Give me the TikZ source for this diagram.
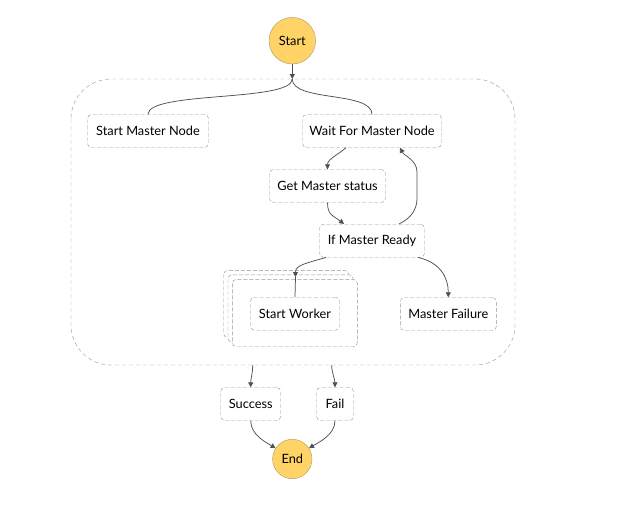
\documentclass[tikz,border=0pt]{standalone}
\usepackage{fontspec}
\setmainfont{Lato}
\usetikzlibrary{arrows.meta}

\definecolor{termfill}{RGB}{255,211,102}
\definecolor{termedge}{RGB}{170,150,110}
\definecolor{boxedge}{RGB}{150,150,150}
\definecolor{flowcol}{RGB}{80,80,80}

\tikzset{
	state/.style={draw=boxedge, dash pattern=on 4pt off 2pt, rounded corners=4pt, fill=white,
		minimum height=33pt, inner sep=0pt, font=\fontsize{12.8}{15}\selectfont},
	terminal/.style={circle, draw=termedge, fill=termfill, inner sep=0pt, font=\fontsize{12.8}{15}\selectfont},
	mapframe/.style={draw=boxedge, dash pattern=on 4pt off 2pt, rounded corners=4pt, fill=white},
	link/.style={draw=flowcol, line width=0.75pt},
	flow/.style={link, -{Triangle[length=5pt,width=5pt]}},
}

\begin{document}
\begin{tikzpicture}[x=1pt,y=-1pt]

	\useasboundingbox (0,0) rectangle (631,511);

	% parallel block
	\draw[boxedge, dash pattern=on 4pt off 3pt, rounded corners=40pt] (71,79) rectangle (515,365);

	% map frames
	\foreach \k in {2,1,0}
		\draw[mapframe] ({232.3-4.3*\k},{279.3-4.5*\k}) rectangle +(125,67.4);

	\node[terminal, minimum size=46.6pt] (start) at (292.3,40.7) {Start};
	\node[state, minimum width=121pt] (startmaster) at (148,131) {Start Master Node};
	\node[state, minimum width=139pt] (waitmaster) at (372,131) {Wait For Master Node};
	\node[state, minimum width=116pt] (getstatus) at (327.5,186) {Get Master status};
	\node[state, minimum width=105pt] (ifready) at (372,240.7) {If Master Ready};
	\node[state, minimum width=89pt] (startworker) at (295,313.7) {Start Worker};
	\node[state, minimum width=96pt] (failure) at (448.3,314) {Master Failure};
	\node[state, minimum width=60pt] (success) at (250.7,404) {Success};
	\node[state, minimum width=37pt] (fail) at (335,404) {Fail};
	\node[terminal, minimum size=39.4pt] (end) at (292.3,459) {End};

	\coordinate (fork) at (292.3,79);
	\coordinate (mapin) at (295.5,277);
	\coordinate (joinl) at (252.7,365);
	\coordinate (joinr) at (331.7,365);

	\draw[flow] (start) -- (fork);
	\draw[link] (fork) .. controls (292.3,102) and (148,91) .. (startmaster.north);
	\draw[link] (fork) .. controls (292.3,102) and (372,91) .. (waitmaster.north);

	\draw[flow] ([xshift=-26pt]waitmaster.south) .. controls +(-8,7) and +(0,-10) .. (getstatus.north);
	\draw[flow] (getstatus.south) .. controls +(0,13) and +(-10,-8) .. ([xshift=-28pt]ifready.north);
	\draw[flow] ([xshift=27pt]ifready.north) .. controls +(12,-6) and +(0,12) .. (417,198)
		-- (417,172) .. controls +(0,-12) and +(4,8) .. ([xshift=28pt]waitmaster.south);

	\draw[flow] ([xshift=-46pt]ifready.south) .. controls +(-20,6) and +(0,-12) .. (mapin);
	\draw[link] (mapin) -- (startworker.north);
	\draw[flow] ([xshift=46pt]ifready.south) .. controls +(22,5) and +(0,-20) .. (failure.north);

	\draw[flow] (joinl) .. controls +(0,8) and +(0,-8) .. (success.north);
	\draw[flow] (joinr) .. controls +(0,8) and +(0,-8) .. (fail.north);
	\draw[flow] (success.south) .. controls +(0,14) and +(-10,-6) .. (end.147);
	\draw[flow] (fail.south) .. controls +(0,14) and +(10,-6) .. (end.33);

\end{tikzpicture}
\end{document}
